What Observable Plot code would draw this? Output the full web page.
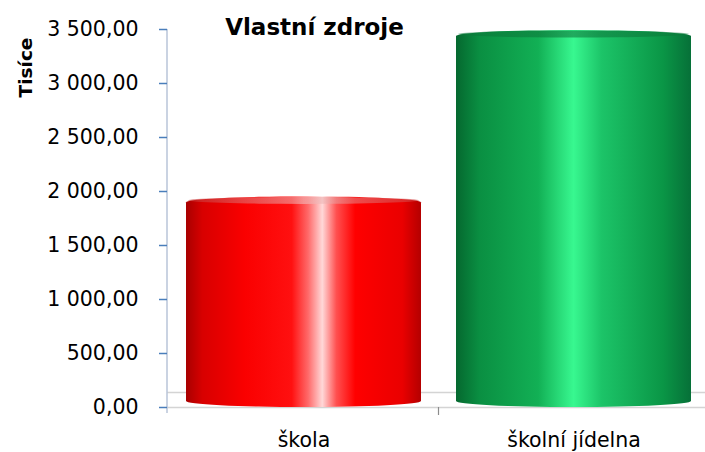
<!DOCTYPE html>
<html>
<head>
<meta charset="utf-8">
<script src="https://cdn.jsdelivr.net/npm/d3@7"></script>
<script src="https://cdn.jsdelivr.net/npm/@observablehq/plot@0.6"></script>
<style>
  html, body { margin: 0; padding: 0; background: #fff; }
  #chart svg { display: block; }
</style>
</head>
<body>
<div id="chart"></div>
<script>
const categories = ["škola", "školní jídelna"];
const values = [1950, 3490];
const yTicks = [0, 500, 1000, 1500, 2000, 2500, 3000, 3500];
const floorLines = [0, 140];
const title = "Vlastní zdroje";
const yLabel = "Tisíce";
const gradientIds = ["gradRed", "gradGreen"];

const data = categories.map((c, i) => ({category: c, value: values[i], grad: gradientIds[i]}));

const locale = d3.formatLocale({decimal: ",", thousands: "\u00a0", grouping: [3], currency: ["", ""]});
const fmt = locale.format(",.2f");

const FONT = "'DejaVu Sans', sans-serif";

const chart = Plot.plot({
  width: 705,
  height: 452,
  marginTop: 29,
  marginBottom: 45,
  marginLeft: 167,
  marginRight: -6,
  style: {fontFamily: FONT, fontSize: "20.5px", color: "#000", background: "#fff", overflow: "visible"},
  x: {domain: categories, paddingInner: 0.128, paddingOuter: 0.07, label: null},
  y: {domain: [0, 3500], label: null},
  marks: [
    // 3D floor outline
    Plot.ruleY(floorLines, {stroke: "#d4d4d4", strokeWidth: 1.5}),
    Plot.barY(data, {
      x: "category", y: "value",
      fill: d => `url(#${d.grad})`,
      rx: 200, ry: 6
    }),
    Plot.axisY({
      ticks: yTicks, tickFormat: fmt, tickSize: 8, tickPadding: 21,
      stroke: "#4a7ebb", strokeWidth: 1.5, fontSize: 20.5, color: "#000"
    }),
    Plot.axisX({tickSize: 0, tickPadding: 25, fontSize: 20.5}),
    Plot.text([title], {
      frameAnchor: "top", dx: -125, dy: -1.5, lineAnchor: "middle",
      fontSize: 23, fontWeight: "bold", fill: "#000"
    }),
    Plot.text([yLabel], {
      frameAnchor: "top-left", dx: -141, dy: 38, rotate: -90,
      textAnchor: "middle", lineAnchor: "middle",
      fontSize: 18.5, fontWeight: "bold", fill: "#000"
    })
  ]
});

// gradients for cylindrical look
const defs = `
<defs>
  <linearGradient id="gradRed" x1="0" x2="1" y1="0" y2="0">
    <stop offset="0" stop-color="#a80000"/>
    <stop offset="0.07" stop-color="#d80000"/>
    <stop offset="0.25" stop-color="#fa0000"/>
    <stop offset="0.45" stop-color="#ff1010"/>
    <stop offset="0.52" stop-color="#ff6a6a"/>
    <stop offset="0.58" stop-color="#ffd8d8"/>
    <stop offset="0.64" stop-color="#ff5050"/>
    <stop offset="0.72" stop-color="#ff0000"/>
    <stop offset="0.92" stop-color="#ea0000"/>
    <stop offset="1" stop-color="#b40000"/>
  </linearGradient>
  <linearGradient id="gradGreen" x1="0" x2="1" y1="0" y2="0">
    <stop offset="0" stop-color="#05682f"/>
    <stop offset="0.1" stop-color="#0a8f42"/>
    <stop offset="0.35" stop-color="#12b055"/>
    <stop offset="0.5" stop-color="#38f890"/>
    <stop offset="0.62" stop-color="#1cc468"/>
    <stop offset="0.88" stop-color="#0a9646"/>
    <stop offset="1" stop-color="#067038"/>
  </linearGradient>
  <linearGradient id="capRed" x1="0" x2="1" y1="0" y2="0">
    <stop offset="0" stop-color="#c83030"/>
    <stop offset="0.5" stop-color="#f0c8c8"/>
    <stop offset="1" stop-color="#d04040"/>
  </linearGradient>
  <linearGradient id="capGreen" x1="0" x2="1" y1="0" y2="0">
    <stop offset="0" stop-color="#0a7a3a"/>
    <stop offset="0.5" stop-color="#0d6e36"/>
    <stop offset="1" stop-color="#0a7a3a"/>
  </linearGradient>
</defs>`;
chart.insertAdjacentHTML("afterbegin", defs);

const ns = "http://www.w3.org/2000/svg";
const xs = chart.scale("x");
const ys = chart.scale("y");
const bw = xs.bandwidth;
const capIds = ["capRed", "capGreen"];

// cylinder top caps
data.forEach((d, i) => {
  const e = document.createElementNS(ns, "ellipse");
  e.setAttribute("cx", xs.apply(d.category) + bw / 2);
  e.setAttribute("cy", ys.apply(d.value) + 4);
  e.setAttribute("rx", bw / 2 - 2);
  e.setAttribute("ry", 3.5);
  e.setAttribute("fill", `url(#${capIds[i]})`);
  e.setAttribute("opacity", 0.55);
  chart.appendChild(e);
});

// y axis line
const line = document.createElementNS(ns, "line");
line.setAttribute("x1", 167); line.setAttribute("x2", 167);
line.setAttribute("y1", ys.apply(3500)); line.setAttribute("y2", ys.apply(0) + 6);
line.setAttribute("stroke", "#b8c4d8"); line.setAttribute("stroke-width", 1.5);
chart.insertBefore(line, chart.querySelector("g[aria-label='y-axis tick']"));

// category separator tick
const sepX = xs.apply(categories[1]) - (xs.step - bw) / 2;
const t = document.createElementNS(ns, "line");
t.setAttribute("x1", sepX); t.setAttribute("x2", sepX);
t.setAttribute("y1", ys.apply(0)); t.setAttribute("y2", ys.apply(0) + 8);
t.setAttribute("stroke", "#8c8c8c"); t.setAttribute("stroke-width", 1.2);
chart.appendChild(t);

document.getElementById("chart").appendChild(chart);
</script>
</body>
</html>
